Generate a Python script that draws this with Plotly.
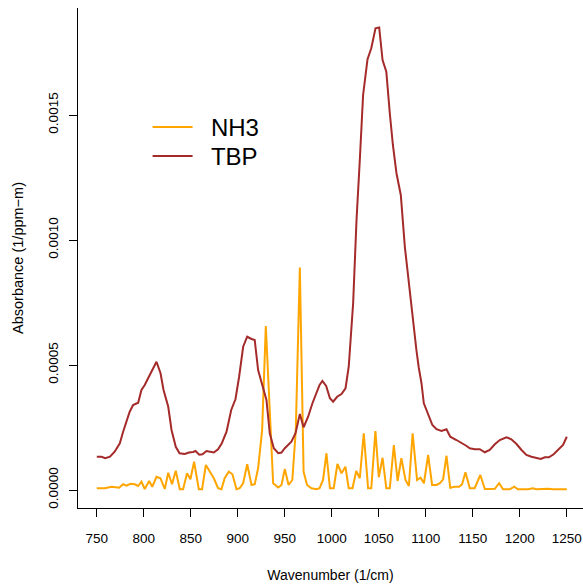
import plotly.graph_objects as go

# ---- data ----
wn_tbp = [750, 755, 759, 764, 769, 774.5, 778, 781.6, 785, 788.6, 794, 797.5, 801, 804.6, 810, 813.5,
          817.8, 821, 826, 829.5, 834, 838, 843.6, 848, 852.5, 855, 859, 862.4, 866.7, 871, 874.5, 879,
          883, 888, 893, 897.5, 901.4, 905.7, 910, 914.6, 918, 921.6, 927, 930.5, 934, 938.3, 943,
          946.5, 950, 953.5, 957, 961.4, 966, 970, 974.8, 979.4, 983.7, 987, 990, 994, 998, 1001.4,
          1005.7, 1010.3, 1014.6, 1018, 1022.7, 1026.3, 1029.8, 1033.3, 1038, 1042, 1046.5, 1050.4,
          1054, 1058, 1061.7, 1065, 1068.8, 1073.4, 1077.7, 1082.3, 1086.5, 1090, 1092.5, 1095.4,
          1097.9, 1102.5, 1107, 1111.4, 1116.7, 1122, 1126, 1132.6, 1139, 1143, 1146.8, 1152, 1157.4,
          1162.8, 1168, 1173.4, 1178.7, 1185.8, 1191, 1196.5, 1201.8, 1207, 1212.4, 1217.7, 1222.3,
          1226.6, 1231, 1236, 1240.8, 1246, 1250]
abs_tbp = [0.000133, 0.000133, 0.000127, 0.000133, 0.000153, 0.000187, 0.000233, 0.000273, 0.000313,
           0.00034, 0.000349, 0.0004, 0.00042, 0.000447, 0.000487, 0.000513, 0.000467, 0.0004, 0.000333,
           0.00024, 0.000173, 0.000147, 0.000144, 0.00015, 0.000152, 0.000156, 0.000141, 0.000143,
           0.000156, 0.000152, 0.00015, 0.000163, 0.000187, 0.000233, 0.00032, 0.000363, 0.000453,
           0.000573, 0.000613, 0.000604, 0.0006, 0.00048, 0.000413, 0.00036, 0.000227, 0.000167,
           0.000147, 0.00015, 0.000167, 0.00018, 0.000193, 0.000227, 0.000304, 0.000251, 0.000293,
           0.000347, 0.000393, 0.00042, 0.000436, 0.000416, 0.000367, 0.000353, 0.000373, 0.000384,
           0.000407, 0.000493, 0.000747, 0.00108, 0.00132, 0.00158, 0.001723, 0.001767, 0.001847,
           0.00185, 0.00172, 0.001673, 0.001507, 0.00138, 0.001267, 0.00118, 0.000973, 0.000813,
           0.000693, 0.00056, 0.00049, 0.000427, 0.000347, 0.0003, 0.00026, 0.000243, 0.000236,
           0.000243, 0.000213, 0.0002, 0.000187, 0.000177, 0.000167, 0.000163, 0.000163, 0.000151,
           0.00016, 0.000183, 0.0002, 0.000211, 0.000203, 0.000184, 0.00016, 0.00014, 0.000133,
           0.000127, 0.000124, 0.000131, 0.000131, 0.000143, 0.00016, 0.00018, 0.000213]

wn_nh3 = [750, 758.5, 765.6, 773.7, 778, 781.6, 785.8, 790.4, 794, 797.5, 801, 805.7, 809, 813.5,
          817.7, 822.3, 826, 830, 834, 838.3, 841.8, 846, 849.6, 853.5, 858.5, 862, 866, 870, 874.5,
          879, 882.6, 886, 890.4, 894.3, 898.6, 902, 905.7, 910, 914.6, 918, 921.6, 925.9, 929.8,
          937.6, 943, 946.5, 950, 954, 958, 961.7, 966, 970, 973.7, 978.4, 983.7, 987, 990.7, 994.3,
          998, 1002, 1006, 1010.3, 1014.5, 1018, 1022, 1026, 1029.8, 1034, 1038.6, 1042, 1046.4,
          1050, 1054, 1058, 1061.7, 1066, 1070, 1074, 1078.4, 1082, 1086, 1090.7, 1094.4, 1098,
          1102.5, 1106.7, 1111.4, 1115, 1118.4, 1122, 1126, 1130.9, 1135.5, 1138.6, 1142.2, 1146.8,
          1152, 1158, 1162.8, 1168, 1173.4, 1178, 1182.2, 1189.4, 1194, 1198, 1209, 1214, 1217.7,
          1230, 1235, 1250]
abs_nh3 = [0.000007, 0.000007, 0.000013, 0.000009, 0.000023, 0.000017, 0.000025, 0.000023, 0.000016,
           0.000033, 0.000004, 0.000036, 0.000013, 0.000053, 0.000047, 0.000004, 0.000069, 0.000023,
           0.000077, 0.000003, 0.000003, 0.000067, 0.000043, 0.000113, 0.000003, 0.000003, 0.0001,
           0.000073, 0.000047, 0.000007, 0.000003, 0.000047, 0.000073, 0.000063, 0.000003, 0.000007,
           0.000027, 0.000103, 0.00002, 0.000023, 0.000087, 0.00024, 0.000656, 0.000027, 0.00001,
           0.00002, 0.000084, 0.00002, 0.00004, 0.00024, 0.00089, 0.000073, 0.00002, 0.000007,
           0.000003, 0.000007, 0.00004, 0.000147, 0.000007, 0.000007, 0.000104, 0.000067, 0.000093,
           0.000007, 0.000007, 0.000076, 0.000047, 0.000227, 0.000007, 0.000007, 0.000236, 0.000051,
           0.000129, 0.000007, 0.000007, 0.00018, 0.000036, 0.000127, 0.00004, 0.000016, 0.000227,
           0.00004, 0.000049, 0.000027, 0.00014, 0.00002, 0.00002, 0.000027, 0.000043, 0.000137,
           0.000009, 0.000013, 0.000013, 0.000023, 0.000071, 0.000007, 0.000007, 0.00006, 0.000004,
           0.000004, 0.000005, 0.000027, 0.000003, 0.000003, 0.000013, 0.000003, 0.000003, 0.000007,
           0.000003, 0.000005, 0.000003, 0.000003]

x_ticks = [750, 800, 850, 900, 950, 1000, 1050, 1100, 1150, 1200, 1250]
y_ticks = [0.0, 0.0005, 0.0010, 0.0015]
y_tick_text = ["0.0000", "0.0005", "0.0010", "0.0015"]

FONT = "Liberation Sans, Arial, Helvetica, sans-serif"
PAD = "\u00a0\u00a0"

fig = go.Figure()
fig.add_trace(go.Scatter(x=wn_nh3, y=abs_nh3, mode="lines", name=PAD + "NH3",
                         line=dict(color="#FFA500", width=2), legend="legend"))
fig.add_trace(go.Scatter(x=wn_tbp, y=abs_tbp, mode="lines", name=PAD + "TBP",
                         line=dict(color="#A52A2A", width=2), legend="legend2"))

leg_common = dict(xanchor="left", yanchor="top",
                  font=dict(size=24, family=FONT, color="black"),
                  bgcolor="rgba(0,0,0,0)", borderwidth=0, itemwidth=40)

fig.update_layout(
    width=583, height=588,
    margin=dict(l=78, r=0, t=8, b=80, pad=0),
    paper_bgcolor="white", plot_bgcolor="white",
    font=dict(family=FONT, color="black", size=13),
    showlegend=True,
    legend=dict(x=0.1378, y=0.806, **leg_common),
    legend2=dict(x=0.1378, y=0.748, **leg_common),
    xaxis=dict(range=[730, 1267.23], tickvals=x_ticks, ticks="outside", ticklen=8,
               tickcolor="black", showline=True, linecolor="black", linewidth=1,
               showgrid=False, zeroline=False, ticklabelstandoff=10,
               tickfont=dict(size=13.5),
               title=dict(text="Wavenumber (1/cm)", font=dict(size=14), standoff=24)),
    yaxis=dict(range=[-0.000072, 0.001928], tickvals=y_ticks, ticktext=y_tick_text,
               ticks="outside", ticklen=8, tickcolor="black", showline=True,
               linecolor="black", linewidth=1, showgrid=False, zeroline=False,
               tickangle=-90, ticklabelstandoff=6, tickfont=dict(size=13.5),
               title=dict(text="Absorbance (1/ppm\u2212m)", font=dict(size=14.5), standoff=18)),
)

fig.write_html("out.html")
